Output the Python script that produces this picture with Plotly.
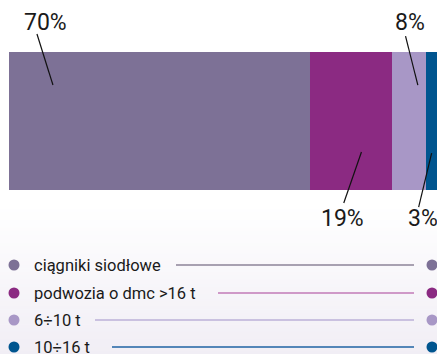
import plotly.graph_objects as go

# ---- data ----
categories = ["ciągniki siodłowe", "podwozia o dmc >16 t", "6÷10 t", "10÷16 t"]
values = [70, 19, 8, 3]
labels = ["70%", "19%", "8%", "3%"]

# ---- style ----
colors = ["#7d7196", "#8b2a82", "#a897c6", "#00558f"]
line_colors = ["#8d8499", "#c27ab7", "#bcb0d8", "#1f63a3"]
# leader-line tip position inside segment (fraction), tip/tail offsets in px
tip_frac = [0.146, 0.63, 0.76, 0.43]
tip_dy = [36, -31, 36, -32]
tail_dx = [-16, -17.7, -12.3, -13]
tail_dy = [87, -82, 85, -86]
lab_dx = [-7, -18.7, -8, -8.7]
lab_dy = [99, -97, 99, -97]
legend_y = [265, 293, 320, 347]
legend_line_start = [176, 218, 95, 112]

W, H = 437, 354
FONT = "Roboto"

fig = go.Figure()

for c, v, col in zip(categories, values, colors):
    fig.add_trace(go.Bar(
        x=[v], y=[0], orientation="h", width=1, name=c,
        marker=dict(color=col, line=dict(width=0)),
        showlegend=False, hoverinfo="skip",
    ))

shapes = []
# background gradient (lower part)
n = 40
y_top, y_bot = 205, H
c0, c1 = (255, 255, 255), (241, 238, 245)
for i in range(n):
    t = (i + 0.5) / n
    r = round(c0[0] + (c1[0] - c0[0]) * t)
    g = round(c0[1] + (c1[1] - c0[1]) * t)
    b = round(c0[2] + (c1[2] - c0[2]) * t)
    ya = y_top + (y_bot - y_top) * i / n
    yb = y_top + (y_bot - y_top) * (i + 1) / n + 0.5
    shapes.append(dict(type="rect", xref="paper", yref="paper",
                       x0=0, x1=1, y0=1 - ya / H, y1=1 - yb / H,
                       fillcolor=f"rgb({r},{g},{b})", line=dict(width=0),
                       layer="below"))

annotations = []
cum = 0
for v, lab, f, tdy, tdx, tldy, ldx, ldy in zip(values, labels, tip_frac, tip_dy,
                                                tail_dx, tail_dy, lab_dx, lab_dy):
    tip_x = cum + v * f
    cum += v
    shapes.append(dict(type="line", xref="x", yref="y",
                       xsizemode="pixel", ysizemode="pixel",
                       xanchor=tip_x, yanchor=0,
                       x0=0, y0=tdy, x1=tdx, y1=tldy,
                       line=dict(color="#111111", width=1.2)))
    annotations.append(dict(xref="x", yref="y", x=tip_x, y=0,
                            xshift=ldx, yshift=ldy,
                            text=lab, showarrow=False,
                            font=dict(family=FONT, size=23, color="#1a1a1a"),
                            xanchor="center", yanchor="middle"))

# legend on pixel overlay axes
for c, col, lc, ly, ls in zip(categories, colors, line_colors, legend_y, legend_line_start):
    fig.add_trace(go.Scatter(x=[ls, 414], y=[ly, ly], mode="lines",
                             line=dict(color=lc, width=1.5),
                             xaxis="x2", yaxis="y2", showlegend=False, hoverinfo="skip"))
    fig.add_trace(go.Scatter(x=[14, 432], y=[ly, ly], mode="markers",
                             marker=dict(color=col, size=11, line=dict(width=0)),
                             xaxis="x2", yaxis="y2", showlegend=False, hoverinfo="skip"))
    annotations.append(dict(xref="x2", yref="y2", x=32, y=ly, text=c,
                            showarrow=False, xanchor="left", yanchor="middle",
                            font=dict(family=FONT, size=16.5, color="#1a1a1a")))

# axis ranges so that 0 -> px 9, 100 -> px 439; bar spans px 52..190
a = -9 * 101.63 / W
fig.update_layout(
    width=W, height=H, margin=dict(l=0, r=0, t=0, b=0),
    barmode="stack", bargap=0,
    paper_bgcolor="white", plot_bgcolor="rgba(0,0,0,0)",
    xaxis=dict(range=[a, a + 101.63], visible=False, fixedrange=True),
    yaxis=dict(range=[-1.688, 0.877], visible=False, fixedrange=True),
    xaxis2=dict(range=[0, W], overlaying="x", visible=False, fixedrange=True),
    yaxis2=dict(range=[H, 0], overlaying="y", visible=False, fixedrange=True),
    shapes=shapes, annotations=annotations,
)

fig.write_html("out.html")
